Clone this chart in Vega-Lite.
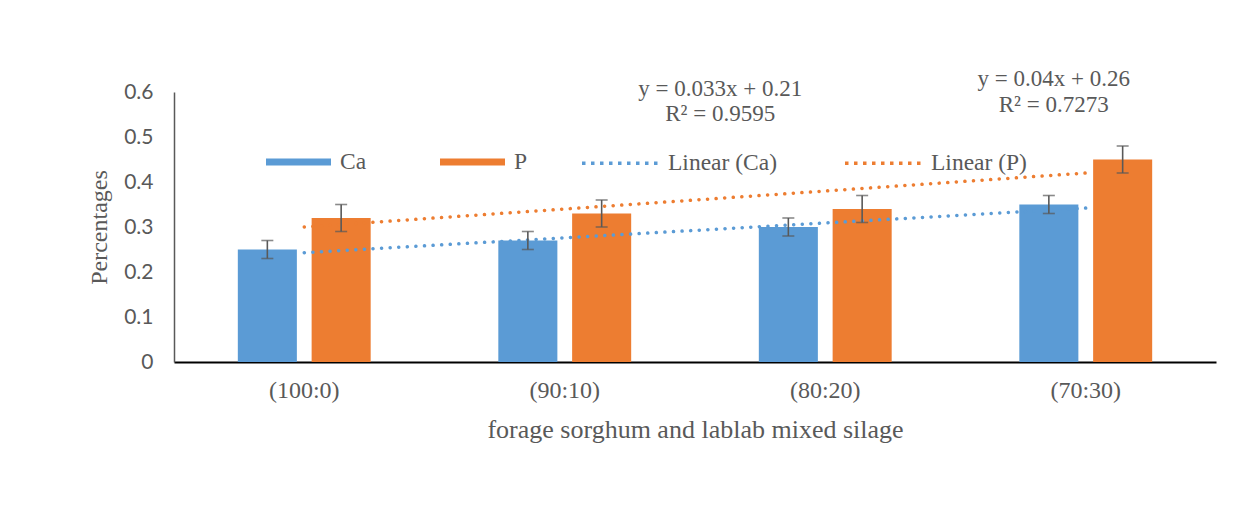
{
  "$schema": "https://vega.github.io/schema/vega-lite/v6.json",
  "width": 1042,
  "height": 270,
  "autosize": {"type": "none"},
  "padding": {"left": 174, "top": 92, "right": 25, "bottom": 169},
  "background": "white",
  "config": {
    "view": {"stroke": null},
    "font": "Liberation Serif"
  },
  "datasets": {
    "bars": [
      {"group": "(100:0)", "series": "Ca", "value": 0.25, "lo": 0.23, "hi": 0.27},
      {"group": "(100:0)", "series": "P", "value": 0.32, "lo": 0.29, "hi": 0.35},
      {"group": "(90:10)", "series": "Ca", "value": 0.27, "lo": 0.25, "hi": 0.29},
      {"group": "(90:10)", "series": "P", "value": 0.33, "lo": 0.30, "hi": 0.36},
      {"group": "(80:20)", "series": "Ca", "value": 0.30, "lo": 0.28, "hi": 0.32},
      {"group": "(80:20)", "series": "P", "value": 0.34, "lo": 0.31, "hi": 0.37},
      {"group": "(70:30)", "series": "Ca", "value": 0.35, "lo": 0.33, "hi": 0.37},
      {"group": "(70:30)", "series": "P", "value": 0.45, "lo": 0.42, "hi": 0.48}
    ],
    "trend": [
      {"group": "(100:0)", "series": "Linear (Ca)", "value": 0.243},
      {"group": "(90:10)", "series": "Linear (Ca)", "value": 0.276},
      {"group": "(80:20)", "series": "Linear (Ca)", "value": 0.309},
      {"group": "(70:30)", "series": "Linear (Ca)", "value": 0.342},
      {"group": "(100:0)", "series": "Linear (P)", "value": 0.30},
      {"group": "(90:10)", "series": "Linear (P)", "value": 0.34},
      {"group": "(80:20)", "series": "Linear (P)", "value": 0.38},
      {"group": "(70:30)", "series": "Linear (P)", "value": 0.42}
    ],
    "eq1": [{"group": "(80:20)", "yv": 0.6, "lbl": ["y = 0.033x + 0.21", "R² = 0.9595"]}],
    "eq2": [{"group": "(70:30)", "yv": 0.6, "lbl": ["y = 0.04x + 0.26", "R² = 0.7273"]}]
  },
  "resolve": {"scale": {"color": "independent"}},
  "layer": [
    {
      "data": {"name": "bars"},
      "mark": {"type": "bar"},
      "encoding": {
        "x": {
          "field": "group", "type": "nominal",
          "sort": ["(100:0)", "(90:10)", "(80:20)", "(70:30)"],
          "scale": {"paddingInner": 0.49, "paddingOuter": 0.245},
          "axis": {
            "title": "forage sorghum and lablab mixed silage",
            "titleFont": "Liberation Serif", "titleFontSize": 26, "titleFontWeight": "normal", "titleColor": "#595959",
            "titlePadding": 14,
            "labelFont": "Liberation Serif", "labelFontSize": 24, "labelColor": "#595959", "labelAngle": 0,
            "labelPadding": 16, "ticks": false,
            "domainColor": "#000000", "domainWidth": 2
          }
        },
        "xOffset": {"field": "series", "type": "nominal", "sort": ["Ca", "P"], "scale": {"paddingInner": 0.2}},
        "y": {
          "field": "value", "type": "quantitative",
          "scale": {"domain": [0, 0.6], "nice": false},
          "axis": {
            "title": "Percentages",
            "titleFont": "Liberation Serif", "titleFontSize": 24, "titleFontWeight": "normal", "titleColor": "#595959",
            "titlePadding": 12,
            "labelFont": "Lato", "labelFontSize": 21, "labelColor": "#595959",
            "labelPadding": 21, "ticks": false, "grid": false,
            "format": "~g",
            "values": [0, 0.1, 0.2, 0.3, 0.4, 0.5, 0.6],
            "domainColor": "#595959", "domainWidth": 1.5
          }
        },
        "color": {
          "field": "series", "type": "nominal",
          "scale": {"domain": ["Ca", "P"], "range": ["#5B9BD5", "#ED7D31"]},
          "legend": {
            "title": null,
            "orient": "none",
            "legendX": 91,
            "legendY": 36.5,
            "direction": "horizontal",
            "columns": 2,
            "columnPadding": 72,
            "labelFont": "Liberation Serif",
            "labelFontSize": 23.5,
            "labelColor": "#595959",
            "labelOffset": 8,
            "symbolSize": 4225,
            "symbolType": "M-1,-0.11H1V0.11H-1Z"
          }
        }
      }
    },
    {
      "data": {"name": "trend"},
      "mark": {"type": "line", "strokeWidth": 3.5, "strokeDash": [0.1, 8.5], "strokeCap": "round"},
      "encoding": {
        "x": {"field": "group", "type": "nominal", "sort": ["(100:0)", "(90:10)", "(80:20)", "(70:30)"]},
        "y": {"field": "value", "type": "quantitative"},
        "color": {
          "field": "series", "type": "nominal",
          "scale": {"domain": ["Linear (Ca)", "Linear (P)"], "range": ["#5B9BD5", "#ED7D31"]},
          "legend": {
            "title": null,
            "orient": "none",
            "legendX": 406,
            "legendY": 29,
            "direction": "horizontal",
            "columns": 2,
            "columnPadding": 61,
            "labelFont": "Liberation Serif",
            "labelFontSize": 23.5,
            "labelColor": "#595959",
            "labelOffset": 4,
            "symbolType": "stroke",
            "symbolSize": 6400,
            "symbolStrokeWidth": 3.5,
            "symbolDash": [3.5, 5.5]
          }
        }
      }
    },
    {
      "data": {"name": "bars"},
      "mark": {"type": "rule", "color": "#595959", "strokeWidth": 1.6},
      "encoding": {
        "x": {"field": "group", "type": "nominal", "sort": ["(100:0)", "(90:10)", "(80:20)", "(70:30)"]},
        "xOffset": {"field": "series", "type": "nominal", "sort": ["Ca", "P"]},
        "y": {"field": "lo", "type": "quantitative"},
        "y2": {"field": "hi"}
      }
    },
    {
      "data": {"name": "bars"},
      "mark": {"type": "tick", "orient": "horizontal", "color": "#595959", "size": 12, "thickness": 1.6},
      "encoding": {
        "x": {"field": "group", "type": "nominal", "sort": ["(100:0)", "(90:10)", "(80:20)", "(70:30)"]},
        "xOffset": {"field": "series", "type": "nominal", "sort": ["Ca", "P"]},
        "y": {"field": "lo", "type": "quantitative"}
      }
    },
    {
      "data": {"name": "bars"},
      "mark": {"type": "tick", "orient": "horizontal", "color": "#595959", "size": 12, "thickness": 1.6},
      "encoding": {
        "x": {"field": "group", "type": "nominal", "sort": ["(100:0)", "(90:10)", "(80:20)", "(70:30)"]},
        "xOffset": {"field": "series", "type": "nominal", "sort": ["Ca", "P"]},
        "y": {"field": "hi", "type": "quantitative"}
      }
    },
    {
      "data": {"name": "eq1"},
      "mark": {"type": "text", "font": "Liberation Serif", "fontSize": 23, "color": "#595959", "align": "center", "baseline": "middle", "lineHeight": 25, "dx": -105, "dy": -3, "clip": false},
      "encoding": {
        "x": {"field": "group", "type": "nominal", "sort": ["(100:0)", "(90:10)", "(80:20)", "(70:30)"]},
        "y": {"field": "yv", "type": "quantitative"},
        "text": {"field": "lbl"}
      }
    },
    {
      "data": {"name": "eq2"},
      "mark": {"type": "text", "font": "Liberation Serif", "fontSize": 23, "color": "#595959", "align": "center", "baseline": "middle", "lineHeight": 26, "dx": -32, "dy": -13, "clip": false},
      "encoding": {
        "x": {"field": "group", "type": "nominal", "sort": ["(100:0)", "(90:10)", "(80:20)", "(70:30)"]},
        "y": {"field": "yv", "type": "quantitative"},
        "text": {"field": "lbl"}
      }
    }
  ]
}
